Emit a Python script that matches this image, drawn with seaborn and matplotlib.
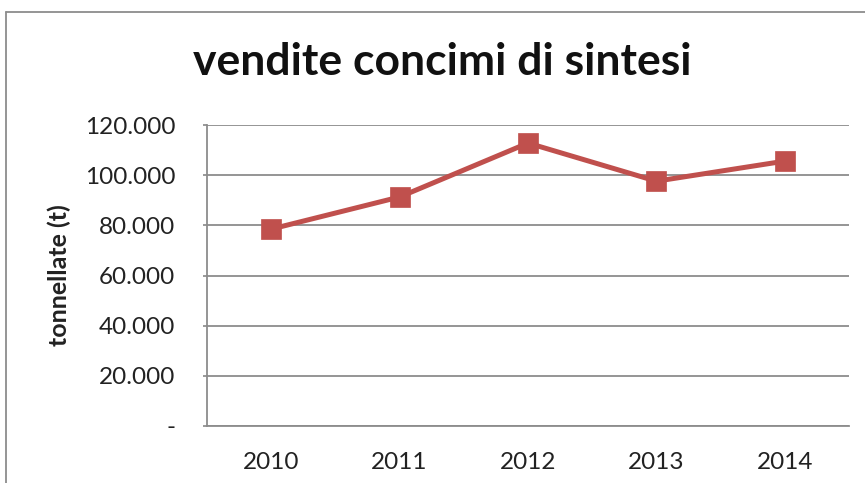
import matplotlib
matplotlib.use("Agg")
import matplotlib.pyplot as plt
import seaborn as sns
import pandas as pd
from matplotlib.lines import Line2D

years = ["2010", "2011", "2012", "2013", "2014"]
tonnes = [78500, 91300, 112800, 97600, 105600]
ytick_values = [0, 20000, 40000, 60000, 80000, 100000, 120000]
ytick_labels = ["-", "20.000", "40.000", "60.000", "80.000", "100.000", "120.000"]
title = "vendite concimi di sintesi"
ylabel = "tonnellate (t)"

sns.set_theme(style="white")
plt.rcParams["font.family"] = ["Lato", "DejaVu Sans"]

W, H = 865, 483
fig = plt.figure(figsize=(W / 100, H / 100), dpi=100)
ax = fig.add_axes([207 / W, 1 - 426 / H, (849 - 207) / W, (426 - 125) / H])

df = pd.DataFrame({"anno": years, "t": tonnes})
sns.lineplot(data=df, x="anno", y="t", ax=ax, sort=False, color="#C0504D",
             linewidth=3.6, marker="s", markersize=14, markeredgecolor="#C0504D",
             markeredgewidth=0.5)

ax.set_xlim(-0.5, len(years) - 0.5)
ax.set_ylim(0, 120000)
ax.set_yticks(ytick_values)
ax.set_yticklabels(ytick_labels)
ax.yaxis.grid(True, color="#8c8c8c", linewidth=1.3)
ax.xaxis.grid(False)
for s in ["top", "right"]:
    ax.spines[s].set_visible(False)
for s in ["left", "bottom"]:
    ax.spines[s].set_color("#8c8c8c")
    ax.spines[s].set_linewidth(1.3)
ax.tick_params(axis="y", length=3, color="#8c8c8c", pad=20, labelsize=17.5, labelcolor="#222222", left=True)
ax.tick_params(axis="x", length=0, pad=19, labelsize=17.5, labelcolor="#222222")
ax.set_xlabel("")
ax.set_ylabel(ylabel, fontsize=18, fontweight="bold", color="#222222", labelpad=10)
ax.set_axisbelow(True)

fig.text(0.5 * (192 + 693) / W, 1 - 62 / H, title, ha="center", va="center",
         fontsize=32, fontweight="bold", color="#111111")

fig.add_artist(Line2D([5.5 / W, 1.0], [1 - 12 / H, 1 - 12 / H], transform=fig.transFigure,
                      color="#8c8c8c", linewidth=1.3))
fig.add_artist(Line2D([5.5 / W, 5.5 / W], [0, 1 - 12 / H], transform=fig.transFigure,
                      color="#8c8c8c", linewidth=1.3))

fig.savefig("out.png", dpi=100)
